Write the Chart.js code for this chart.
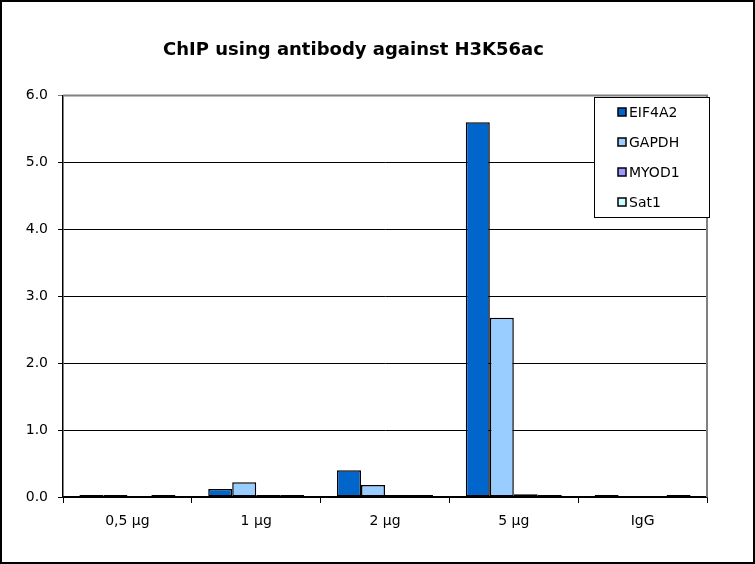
<!DOCTYPE html>
<html>
<head>
<meta charset="utf-8">
<script src="https://cdn.jsdelivr.net/npm/chart.js@4.4.1/dist/chart.umd.min.js"></script>
<style>
  html,body{margin:0;padding:0;background:#fff;}
  #wrap{width:755px;height:564px;}
</style>
</head>
<body>
<div id="wrap"><canvas id="chart" width="755" height="564"></canvas></div>
<script>
const categories = ["0,5 µg", "1 µg", "2 µg", "5 µg", "IgG"];
const seriesNames = ["EIF4A2", "GAPDH", "MYOD1", "Sat1"];
const eif4a2 = [0.03, 0.12, 0.40, 5.60, 0.03];
const gapdh  = [0.03, 0.22, 0.18, 2.68, 0];
const myod1  = [0, 0.03, 0.03, 0.04, 0];
const sat1   = [0.03, 0.03, 0.03, 0.03, 0.03];
const yTicks = [0, 1, 2, 3, 4, 5, 6];

const colors = ["#0066CC", "#99CCFF", "#9999FF", "#CCFFFF"];
const FONT = "'DejaVu Sans', Arial, sans-serif";

/* page background + outer border, plot frame, legend box */
const frame = {
  id: "frame",
  beforeDraw(c){
    const g = c.ctx;
    g.save();
    g.fillStyle = "#fff";
    g.fillRect(0, 0, c.width, c.height);
    g.strokeStyle = "#000";
    g.lineWidth = 2;
    g.strokeRect(1, 1, c.width - 2, c.height - 2);
    g.restore();
  },
  afterDatasetsDraw(c){
    const a = c.chartArea, g = c.ctx;
    g.save();
    g.strokeStyle = "#808080";
    g.lineWidth = 2;
    g.beginPath();
    g.moveTo(a.left, a.top);
    g.lineTo(a.right, a.top);
    g.lineTo(a.right, a.bottom);
    g.stroke();
    g.restore();
  },
  afterDraw(c){
    const g = c.ctx;
    const x = 594, y = 97, w = 115, h = 120;
    g.save();
    g.fillStyle = "#fff";
    g.fillRect(x, y, w, h);
    g.strokeStyle = "#000";
    g.lineWidth = 1;
    g.strokeRect(x + 0.5, y + 0.5, w, h);
    g.font = "14px " + FONT;
    g.textBaseline = "middle";
    c.data.datasets.forEach((d, i) => {
      const cy = y + 15 + i * 30;
      g.fillStyle = d.backgroundColor;
      g.fillRect(x + 24, cy - 4, 8, 8);
      g.strokeStyle = "#000";
      g.lineWidth = 1.5;
      g.strokeRect(x + 24, cy - 4, 8, 8);
      g.fillStyle = "#000";
      g.fillText(d.label, x + 35, cy + 1);
    });
    g.restore();
  }
};

const data = [eif4a2, gapdh, myod1, sat1];

new Chart(document.getElementById("chart"), {
  type: "bar",
  data: {
    labels: categories,
    datasets: seriesNames.map((n, i) => ({
      label: n,
      data: data[i],
      backgroundColor: colors[i],
      borderColor: "#000",
      borderWidth: 1.5,
      borderSkipped: false,
      categoryPercentage: 0.745,
      barPercentage: 1
    }))
  },
  options: {
    responsive: false,
    animation: false,
    layout: { padding: { left: 0, right: 48, top: 0, bottom: 0 } },
    plugins: {
      legend: { display: false },
      tooltip: { enabled: false },
      title: {
        display: true,
        text: "ChIP using antibody against H3K56ac",
        color: "#000",
        font: { family: FONT, size: 18, weight: "bold" },
        padding: { top: 40, bottom: 34 }
      }
    },
    scales: {
      x: {
        afterFit(s){ s.height = 67; },
        grid: {
          offset: true,
          drawOnChartArea: false,
          drawTicks: true,
          tickLength: 6,
          color: "#000"
        },
        border: { color: "#000", width: 1.5 },
        ticks: { color: "#000", font: { family: FONT, size: 14 }, padding: 10 }
      },
      y: {
        min: 0,
        max: 6,
        afterFit(s){ s.width = 63; },
        afterBuildTicks(s){ s.ticks = yTicks.map(v => ({ value: v })); },
        grid: {
          color: ctx => ctx.tick && ctx.tick.value === 6 ? "#808080" : "#000",
          tickLength: 5,
          lineWidth: 1
        },
        border: { color: "#000", width: 1.5 },
        ticks: {
          color: "#000",
          font: { family: FONT, size: 14 },
          padding: 10,
          callback: v => v.toFixed(1)
        }
      }
    }
  },
  plugins: [frame]
});
</script>
</body>
</html>
